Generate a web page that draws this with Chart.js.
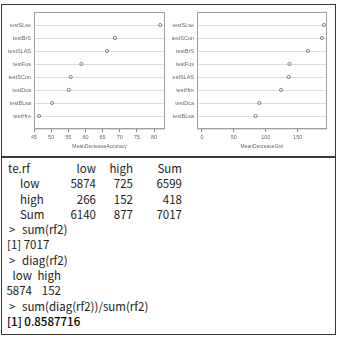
<!DOCTYPE html>
<html>
<head>
<meta charset="utf-8">
<script src="https://cdn.jsdelivr.net/npm/chart.js@4"></script>
<style>
  body { margin: 0; background: #fff; width: 345px; height: 339px; position: relative; overflow: hidden; }
  #frame { position: absolute; left: 1px; top: 4px; width: 335px; height: 331px; border: 1.5px solid #3a3a3a; box-sizing: border-box; }
  #divider { position: absolute; left: 1px; top: 156px; width: 335px; height: 1.5px; background: #3a3a3a; }
  canvas { position: absolute; top: 0; }
  #c1 { left: 0; }
  #c2 { left: 172px; }
  .console { position: absolute; left: 0; top: 161px; font-family: "Noto Sans CJK KR", "Noto Sans", sans-serif; font-size: 11.5px; color: #222; line-height: 15.3px; }
  .line { position: relative; height: 15.3px; white-space: pre; }
  .line span { position: absolute; top: 0; }
</style>
</head>
<body>
<div id="frame"></div>
<div id="divider"></div>
<canvas id="c1" width="172" height="155"></canvas>
<canvas id="c2" width="173" height="155"></canvas>
<div class="console" id="console"></div>
<script>
// Variable importance, MeanDecreaseAccuracy (left panel)
const accLabels = ['testSLse', 'testBrS', 'testSLAS', 'testFus', 'testSCon', 'testDca', 'testBLsa', 'testHre'];
const accValues = [81.8, 68.6, 66.3, 58.8, 55.7, 55.1, 50.3, 46.5];
const accTicks = [45, 50, 55, 60, 65, 70, 75, 80];

// Variable importance, MeanDecreaseGini (right panel)
const giniLabels = ['testSLse', 'testSCon', 'testBrS', 'testFus', 'testSLAS', 'testHre', 'testDca', 'testBLsa'];
const giniValues = [191, 188, 166, 137, 136, 124, 90, 84];
const giniTicks = [0, 50, 100, 150];

// Confusion table printed in the console
const tableCols = ['low', 'high', 'Sum'];
const tableRows = ['low', 'high', 'Sum'];
const tableValues = [[5874, 725, 6599], [266, 152, 418], [6140, 877, 7017]];
const diagNames = ['low', 'high'];
const diagValues = [5874, 152];

// draws the full box round the plotting region, like R's dotchart
const boxPlugin = {
    id: 'box',
    afterDraw(chart) {
        const a = chart.chartArea;
        const ctx = chart.ctx;
        ctx.save();
        ctx.strokeStyle = '#a0a0a0';
        ctx.lineWidth = 1;
        ctx.strokeRect(Math.round(a.left) + 0.5, Math.round(a.top) + 0.5, Math.round(a.width) - 1, Math.round(a.height) - 1);
        ctx.restore();
    }
};

function dotChart(id, labels, values, ticks, xmin, xmax, yWidth, padRight, title) {
    // blank rows at both ends give R's one-row margin inside the box
    const rowLabels = [''].concat(labels, ['']);
    const rowValues = [null].concat(values, [null]);
    new Chart(document.getElementById(id), {
        type: 'line',
        data: {
            labels: rowLabels,
            datasets: [{
                data: rowValues,
                showLine: false,
                pointStyle: 'circle',
                pointRadius: 1.6,
                pointBorderWidth: 0.8,
                pointBorderColor: '#6a6a6a',
                pointBackgroundColor: 'rgba(0,0,0,0)'
            }]
        },
        options: {
            indexAxis: 'y',
            responsive: false,
            animation: false,
            devicePixelRatio: 1,
            layout: { padding: { top: 12, right: padRight, left: 0, bottom: 0 } },
            plugins: { legend: { display: false }, tooltip: { enabled: false } },
            scales: {
                y: {
                    type: 'category',
                    offset: false,
                    afterFit: s => { s.width = yWidth; },
                    border: { display: false },
                    grid: { color: '#d4d4d4', borderDash: [1, 2], drawTicks: false, lineWidth: 0.8 },
                    ticks: { color: '#666', font: { size: 5.5, family: 'Liberation Sans' }, padding: 3, autoSkip: false }
                },
                x: {
                    type: 'linear',
                    min: xmin,
                    max: xmax,
                    afterBuildTicks: s => { s.ticks = ticks.map(v => ({ value: v })); },
                    afterFit: s => { s.height = 26; },
                    border: { display: false },
                    grid: { drawOnChartArea: false, drawTicks: true, tickLength: 3, color: '#888' },
                    ticks: { color: '#666', font: { size: 5.5, family: 'Liberation Sans' }, padding: 2.5, maxRotation: 0 },
                    title: { display: true, text: title, color: '#666', font: { size: 5, family: 'Liberation Sans' }, padding: { top: 0, bottom: 5 } }
                }
            }
        },
        plugins: [boxPlugin]
    });
}

dotChart('c1', accLabels, accValues, accTicks, 45, 83.2, 34, 7, 'MeanDecreaseAccuracy');
dotChart('c2', giniLabels, giniValues, giniTicks, -7.8, 196, 25, 18, 'MeanDecreaseGini');

// console text
const con = document.getElementById('console');
con.style.width = '345px';
function addLine(parts) {
    const div = document.createElement('div');
    div.className = 'line';
    parts.forEach(p => {
        const s = document.createElement('span');
        s.textContent = p.t;
        if (p.right !== undefined) {
            s.style.right = (345 - p.right) + 'px';
        } else {
            s.style.left = p.left + 'px';
        }
        if (p.bold) s.style.fontWeight = '500';
        if (p.color) s.style.color = p.color;
        div.appendChild(s);
    });
    con.appendChild(div);
}
const colRight = [96, 133, 182];
addLine([{ t: 'te.rf', left: 8 }].concat(tableCols.map((c, i) => ({ t: c, right: colRight[i] }))));
tableRows.forEach((r, j) => {
    addLine([{ t: r, left: 20 }].concat(tableValues[j].map((v, i) => ({ t: String(v), right: colRight[i] }))));
});
addLine([{ t: '>', left: 9 }, { t: 'sum(rf2)', left: 22 }]);
addLine([{ t: '[1] 7017', left: 7 }]);
addLine([{ t: '>', left: 9 }, { t: 'diag(rf2)', left: 22 }]);
const diagRight = [32, 61];
addLine(diagNames.map((n, i) => ({ t: n, right: diagRight[i] })));
addLine(diagValues.map((v, i) => ({ t: String(v), right: diagRight[i] })));
addLine([{ t: '>', left: 9 }, { t: 'sum(diag(rf2))/sum(rf2)', left: 22 }]);
addLine([{ t: '[1] 0.8587716', left: 7, bold: true, color: '#000' }]);
</script>
</body>
</html>
